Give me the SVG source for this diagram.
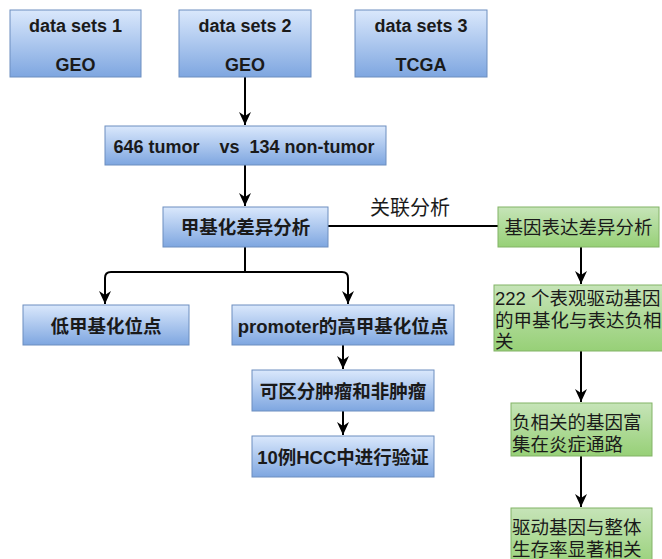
<svg xmlns="http://www.w3.org/2000/svg" width="662" height="559" viewBox="0 0 662 559">
<defs>
<linearGradient id="gb" x1="0" y1="0" x2="0" y2="1"><stop offset="0" stop-color="#dae8fc"/><stop offset="1" stop-color="#7ea6e0"/></linearGradient>
<linearGradient id="gg" x1="0" y1="0" x2="0" y2="1"><stop offset="0" stop-color="#c6e4b8"/><stop offset="1" stop-color="#97d077"/></linearGradient>
<marker id="ar" markerUnits="userSpaceOnUse" markerWidth="14" markerHeight="14" refX="13" refY="7" orient="auto"><path d="M0,1 L13,7 L0,13 L4,7 z" fill="#000"/></marker>
<style>
.b{fill:url(#gb);stroke:#6c8ebf;stroke-width:1}
.g{fill:url(#gg);stroke:#82b366;stroke-width:1}
text{font-family:"Liberation Sans","Noto Sans CJK SC",sans-serif;fill:#1a1a1a}
.e{font-size:18px;font-weight:bold;text-anchor:middle}
.c{font-size:18.5px;font-weight:bold;text-anchor:middle}
.l{font-size:18.5px}
.k{stroke:#000;stroke-width:2;fill:none}
</style>
</defs>
<g id="connectors">
<path class="k" d="M245,77 V125" marker-end="url(#ar)"/>
<path class="k" d="M245,165 V206" marker-end="url(#ar)"/>
<path class="k" d="M328,226 H498"/>
<path class="k" d="M245,247 V272"/>
<path class="k" d="M245,272 H111 Q105,272 105,278 V304" marker-end="url(#ar)"/>
<path class="k" d="M245,272 H342 Q348,272 348,278 V304" marker-end="url(#ar)"/>
<path class="k" d="M343,345 V369" marker-end="url(#ar)"/>
<path class="k" d="M343,411 V435" marker-end="url(#ar)"/>
<path class="k" d="M581,247 V284" marker-end="url(#ar)"/>
<path class="k" d="M581,351 V402" marker-end="url(#ar)"/>
<path class="k" d="M581,456 V507" marker-end="url(#ar)"/>
<text x="410" y="215" style="font-size:20px;text-anchor:middle">关联分析</text>
</g>
<g id="ds1"><rect class="b" x="10" y="10" width="131" height="67"/><text class="e" x="75.5" y="32">data sets 1</text><text class="e" x="75.5" y="71">GEO</text></g>
<g id="ds2"><rect class="b" x="179" y="10" width="132" height="67"/><text class="e" x="245" y="32">data sets 2</text><text class="e" x="245" y="71">GEO</text></g>
<g id="ds3"><rect class="b" x="355" y="10" width="132" height="67"/><text class="e" x="421" y="32">data sets 3</text><text class="e" x="421" y="71">TCGA</text></g>
<g id="cmp"><rect class="b" x="105" y="126" width="281" height="39"/><text class="e" x="244" y="153" xml:space="preserve">646 tumor    vs  134 non-tumor</text></g>
<g id="meth"><rect class="b" x="163" y="207" width="165" height="40"/><text class="c" x="245.5" y="234">甲基化差异分析</text></g>
<g id="expr"><rect class="g" x="498" y="207" width="161" height="40"/><text class="l" x="578.5" y="234" style="text-anchor:middle">基因表达差异分析</text></g>
<g id="low"><rect class="b" x="23" y="305" width="166" height="40"/><text class="c" x="106" y="333">低甲基化位点</text></g>
<g id="high"><rect class="b" x="232" y="305" width="222" height="40"/><text class="c" x="343" y="333">promoter的高甲基化位点</text></g>
<g id="dist"><rect class="b" x="252" y="370" width="182" height="41"/><text class="c" x="343" y="398">可区分肿瘤和非肿瘤</text></g>
<g id="valid"><rect class="b" x="252" y="436" width="182" height="41"/><text class="c" x="343" y="464">10例HCC中进行验证</text></g>
<g id="g222"><rect class="g" x="494" y="285" width="180" height="66"/><text class="l" x="495" y="305">222 个表观驱动基因</text><text class="l" x="495" y="327">的甲基化与表达负相</text><text class="l" x="495" y="348">关</text></g>
<g id="neg"><rect class="g" x="511" y="403" width="141" height="53"/><text class="l" x="512" y="429">负相关的基因富</text><text class="l" x="512" y="451">集在炎症通路</text></g>
<g id="surv"><rect class="g" x="511" y="508" width="141" height="60"/><text class="l" x="512" y="534">驱动基因与整体</text><text class="l" x="512" y="556">生存率显著相关</text></g>
</svg>
